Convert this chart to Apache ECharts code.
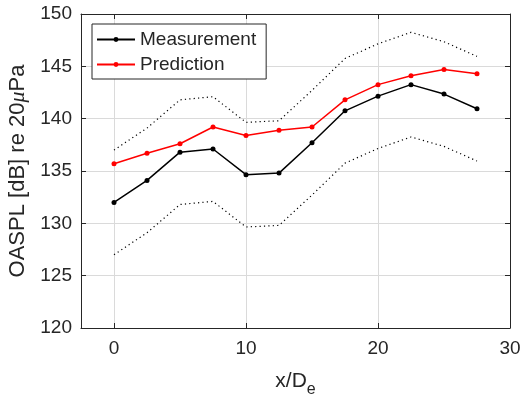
<!DOCTYPE html>
<html>
<head>
<meta charset="utf-8">
<script src="https://cdn.jsdelivr.net/npm/echarts@6/dist/echarts.min.js"></script>
<style>
  html, body { margin: 0; padding: 0; background: #fff; }
  #chart { width: 520px; height: 399px; }
</style>
</head>
<body>
<div id="chart"></div>
<script>
// Downstream positions x/De and overall sound pressure levels (dB re 20 µPa)
const xPositions = [0, 2.5, 5, 7.5, 10, 12.5, 15, 17.5, 20, 22.5, 25, 27.5];
const measurement = [132.0, 134.1, 136.8, 137.1, 134.65, 134.8, 137.7, 140.75, 142.15, 143.25, 142.35, 140.95];
const prediction  = [135.7, 136.7, 137.6, 139.2, 138.4, 138.9, 139.2, 141.8, 143.25, 144.1, 144.7, 144.3];
// Dotted band around the measurement
const upperBound = [137.0, 139.1, 141.8, 142.1, 139.65, 139.8, 142.7, 145.75, 147.15, 148.25, 147.35, 145.95];
const lowerBound = [127.0, 129.1, 131.8, 132.1, 129.65, 129.8, 132.7, 135.75, 137.15, 138.25, 137.35, 135.95];
// Tick labels
const xTicks = [0, 10, 20, 30];
const yTicks = [120, 125, 130, 135, 140, 145, 150];

const FONT = '"Liberation Sans", Arial, Helvetica, sans-serif';
const AXIS_COLOR = '#262626';
const GRID_COLOR = '#dadada';

const pairs = (ys) => xPositions.map((x, i) => [x, ys[i]]);

const chart = echarts.init(document.getElementById('chart'), null, { renderer: 'canvas' });

const xBase = {
  type: 'value', min: -2.5, max: 30,
  axisLine: { show: true, onZero: false, lineStyle: { color: AXIS_COLOR, width: 1 } },
  axisTick: { show: true, inside: true, length: 5, customValues: xTicks, lineStyle: { color: AXIS_COLOR } }
};
const yBase = {
  type: 'value', min: yTicks[0], max: yTicks[yTicks.length - 1], interval: 5,
  axisLine: { show: true, onZero: false, lineStyle: { color: AXIS_COLOR, width: 1 } },
  axisTick: { show: true, inside: true, length: 5, lineStyle: { color: AXIS_COLOR } }
};

chart.setOption({
  animation: false,
  backgroundColor: '#fff',
  grid: { left: 81, right: 10, top: 14, bottom: 71, containLabel: false, outerBoundsMode: 'none' },
  legend: {
    orient: 'vertical', left: 92, top: 24,
    data: ['Measurement', 'Prediction'],
    backgroundColor: '#fff', borderColor: AXIS_COLOR, borderWidth: 1, borderRadius: 0,
    padding: [6, 10, 5, 4],
    itemWidth: 38, itemHeight: 6, itemGap: 6,
    textStyle: { fontFamily: FONT, fontSize: 19, color: AXIS_COLOR, lineHeight: 19 }
  },
  xAxis: [
    Object.assign({}, xBase, {
      position: 'bottom',
      axisLabel: { show: true, customValues: xTicks, margin: 11, fontFamily: FONT, fontSize: 19, color: AXIS_COLOR,
                   showMinLabel: true, showMaxLabel: true, hideOverlap: false },
      splitLine: { show: true, lineStyle: { color: GRID_COLOR, width: 1 } },
      name: 'x/D{sub|e}', nameLocation: 'middle', nameGap: 36,
      nameTextStyle: {
        fontFamily: FONT, fontSize: 21, color: AXIS_COLOR,
        rich: {
          sub: { fontFamily: FONT, fontSize: 16, color: AXIS_COLOR, verticalAlign: 'bottom', padding: [18, 0, 0, 0] }
        }
      }
    }),
    Object.assign({}, xBase, {
      position: 'top',
      axisLabel: { show: false },
      splitLine: { show: false }
    })
  ],
  yAxis: [
    Object.assign({}, yBase, {
      position: 'left',
      axisLabel: { show: true, margin: 9, fontFamily: FONT, fontSize: 19, color: AXIS_COLOR },
      splitLine: { show: true, lineStyle: { color: GRID_COLOR, width: 1 } },
      name: 'OASPL [dB] re 20{mu|μ}Pa', nameLocation: 'middle', nameRotate: 90, nameGap: 52,
      nameTextStyle: {
        fontFamily: FONT, fontSize: 22, color: AXIS_COLOR,
        rich: {
          mu: { fontFamily: '"Liberation Serif", "DejaVu Serif", serif', fontStyle: 'italic', fontSize: 22, color: AXIS_COLOR }
        }
      }
    }),
    Object.assign({}, yBase, {
      position: 'right',
      axisLabel: { show: false },
      splitLine: { show: false }
    })
  ],
  series: [
    {
      name: 'upper', type: 'line', xAxisIndex: 0, yAxisIndex: 0,
      data: pairs(upperBound), symbol: 'none', silent: true,
      lineStyle: { color: '#000', width: 1.2, type: [1.2, 3.2] }
    },
    {
      name: 'lower', type: 'line', xAxisIndex: 0, yAxisIndex: 0,
      data: pairs(lowerBound), symbol: 'none', silent: true,
      lineStyle: { color: '#000', width: 1.2, type: [1.2, 3.2] }
    },
    {
      name: 'Measurement', type: 'line', xAxisIndex: 0, yAxisIndex: 0,
      data: pairs(measurement), symbol: 'circle', symbolSize: 5,
      itemStyle: { color: '#000' },
      lineStyle: { color: '#000', width: 1.5 }
    },
    {
      name: 'Prediction', type: 'line', xAxisIndex: 0, yAxisIndex: 0,
      data: pairs(prediction), symbol: 'circle', symbolSize: 5,
      itemStyle: { color: '#ff0000' },
      lineStyle: { color: '#ff0000', width: 1.5 }
    }
  ]
});
</script>
</body>
</html>
